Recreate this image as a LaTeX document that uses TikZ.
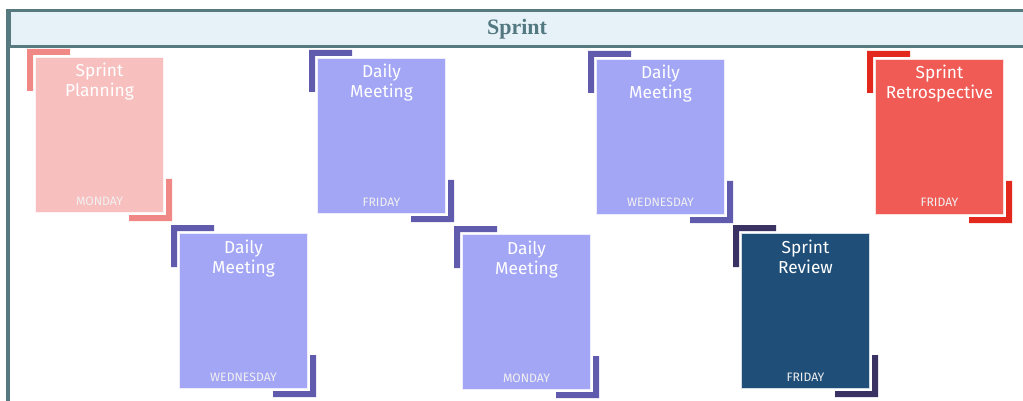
\documentclass[tikz,border=0pt]{standalone}
\usepackage{fontspec}
\setmainfont{Liberation Serif}
\newfontfamily\cardfont{Fira Sans}
\usetikzlibrary{calc}

\definecolor{framecol}{HTML}{577A80}
\definecolor{bandfill}{HTML}{E7F2F8}
\definecolor{headtext}{HTML}{537880}
\definecolor{planfill}{HTML}{F8BFBF}
\definecolor{planmark}{HTML}{F08886}
\definecolor{dailyfill}{HTML}{A3A6F5}
\definecolor{dailymark}{HTML}{615BAE}
\definecolor{reviewfill}{HTML}{1F4E78}
\definecolor{reviewmark}{HTML}{3B3264}
\definecolor{retrofill}{HTML}{F05B56}
\definecolor{retromark}{HTML}{E3281E}

\tikzset{
  card/.style={rectangle, anchor=north west, inner sep=0pt, line width=1pt,
    minimum width=128pt, minimum height=155pt},
  cardtitle/.style={anchor=base, inner sep=0pt, text=white,
    font=\cardfont\fontsize{17.3}{20}\selectfont},
  cardday/.style={anchor=base, inner sep=0pt, text=white!94!black,
    font=\cardfont\fontsize{12.2}{14}\selectfont},
  band/.style={rectangle, anchor=north west, inner sep=0pt, draw=framecol,
    fill=bandfill, line width=3.2pt, minimum width=1040pt, minimum height=36pt},
  headline/.style={anchor=base, inner sep=0pt, text=headtext,
    font=\bfseries\fontsize{22}{24}\selectfont},
  frameline/.style={draw=framecol, line width=3.4pt}
}

% one meeting card with its two corner marks
\newcommand\sprintcard[8]{%
  \node[card, fill=#4, draw=white!80!#4] (#1) at (#2,#3) {};
  \fill[#5] ($(#1.north west)+(-8,-8)$) -- ++(43,0) -- ++(0,6) -- ++(-37,0)
    -- ++(0,36) -- ++(-6,0) -- cycle;
  \fill[#5] ($(#1.south east)+(8,8)$) -- ++(-43,0) -- ++(0,-6) -- ++(37,0)
    -- ++(0,-36) -- ++(6,0) -- cycle;
  \node[cardtitle] (#1-a) at ($(#1.north)+(0,20)$) {#6};
  \node[cardtitle] (#1-b) at ($(#1.north)+(0,40)$) {#7};
  \node[cardday] (#1-d) at ($(#1.south)+(0,-8)$) {#8};
}

\begin{document}
\begin{tikzpicture}[x=1pt, y=-1pt]
  \useasboundingbox (0,0) rectangle (1023,401);
  \clip (0,0) rectangle (1023,401);

  % sprint frame
  \coordinate (framebottom) at (8,410);
  \node[band] (band) at (8,9) {};
  \draw[frameline] (band.north west) -- (framebottom);
  \node[headline] (head) at (517,35) {Sprint};

  % cards
  \sprintcard{plan}{35}{57}{planfill}{planmark}{Sprint}{Planning}{MONDAY}
  \sprintcard{dailyA}{179}{233}{dailyfill}{dailymark}{Daily}{Meeting}{WEDNESDAY}
  \sprintcard{dailyB}{317}{58}{dailyfill}{dailymark}{Daily}{Meeting}{FRIDAY}
  \sprintcard{dailyC}{462}{234}{dailyfill}{dailymark}{Daily}{Meeting}{MONDAY}
  \sprintcard{dailyD}{596}{59}{dailyfill}{dailymark}{Daily}{Meeting}{WEDNESDAY}
  \sprintcard{review}{741}{233}{reviewfill}{reviewmark}{Sprint}{Review}{FRIDAY}
  \sprintcard{retro}{875}{59}{retrofill}{retromark}{Sprint}{Retrospective}{FRIDAY}
\end{tikzpicture}
\end{document}
